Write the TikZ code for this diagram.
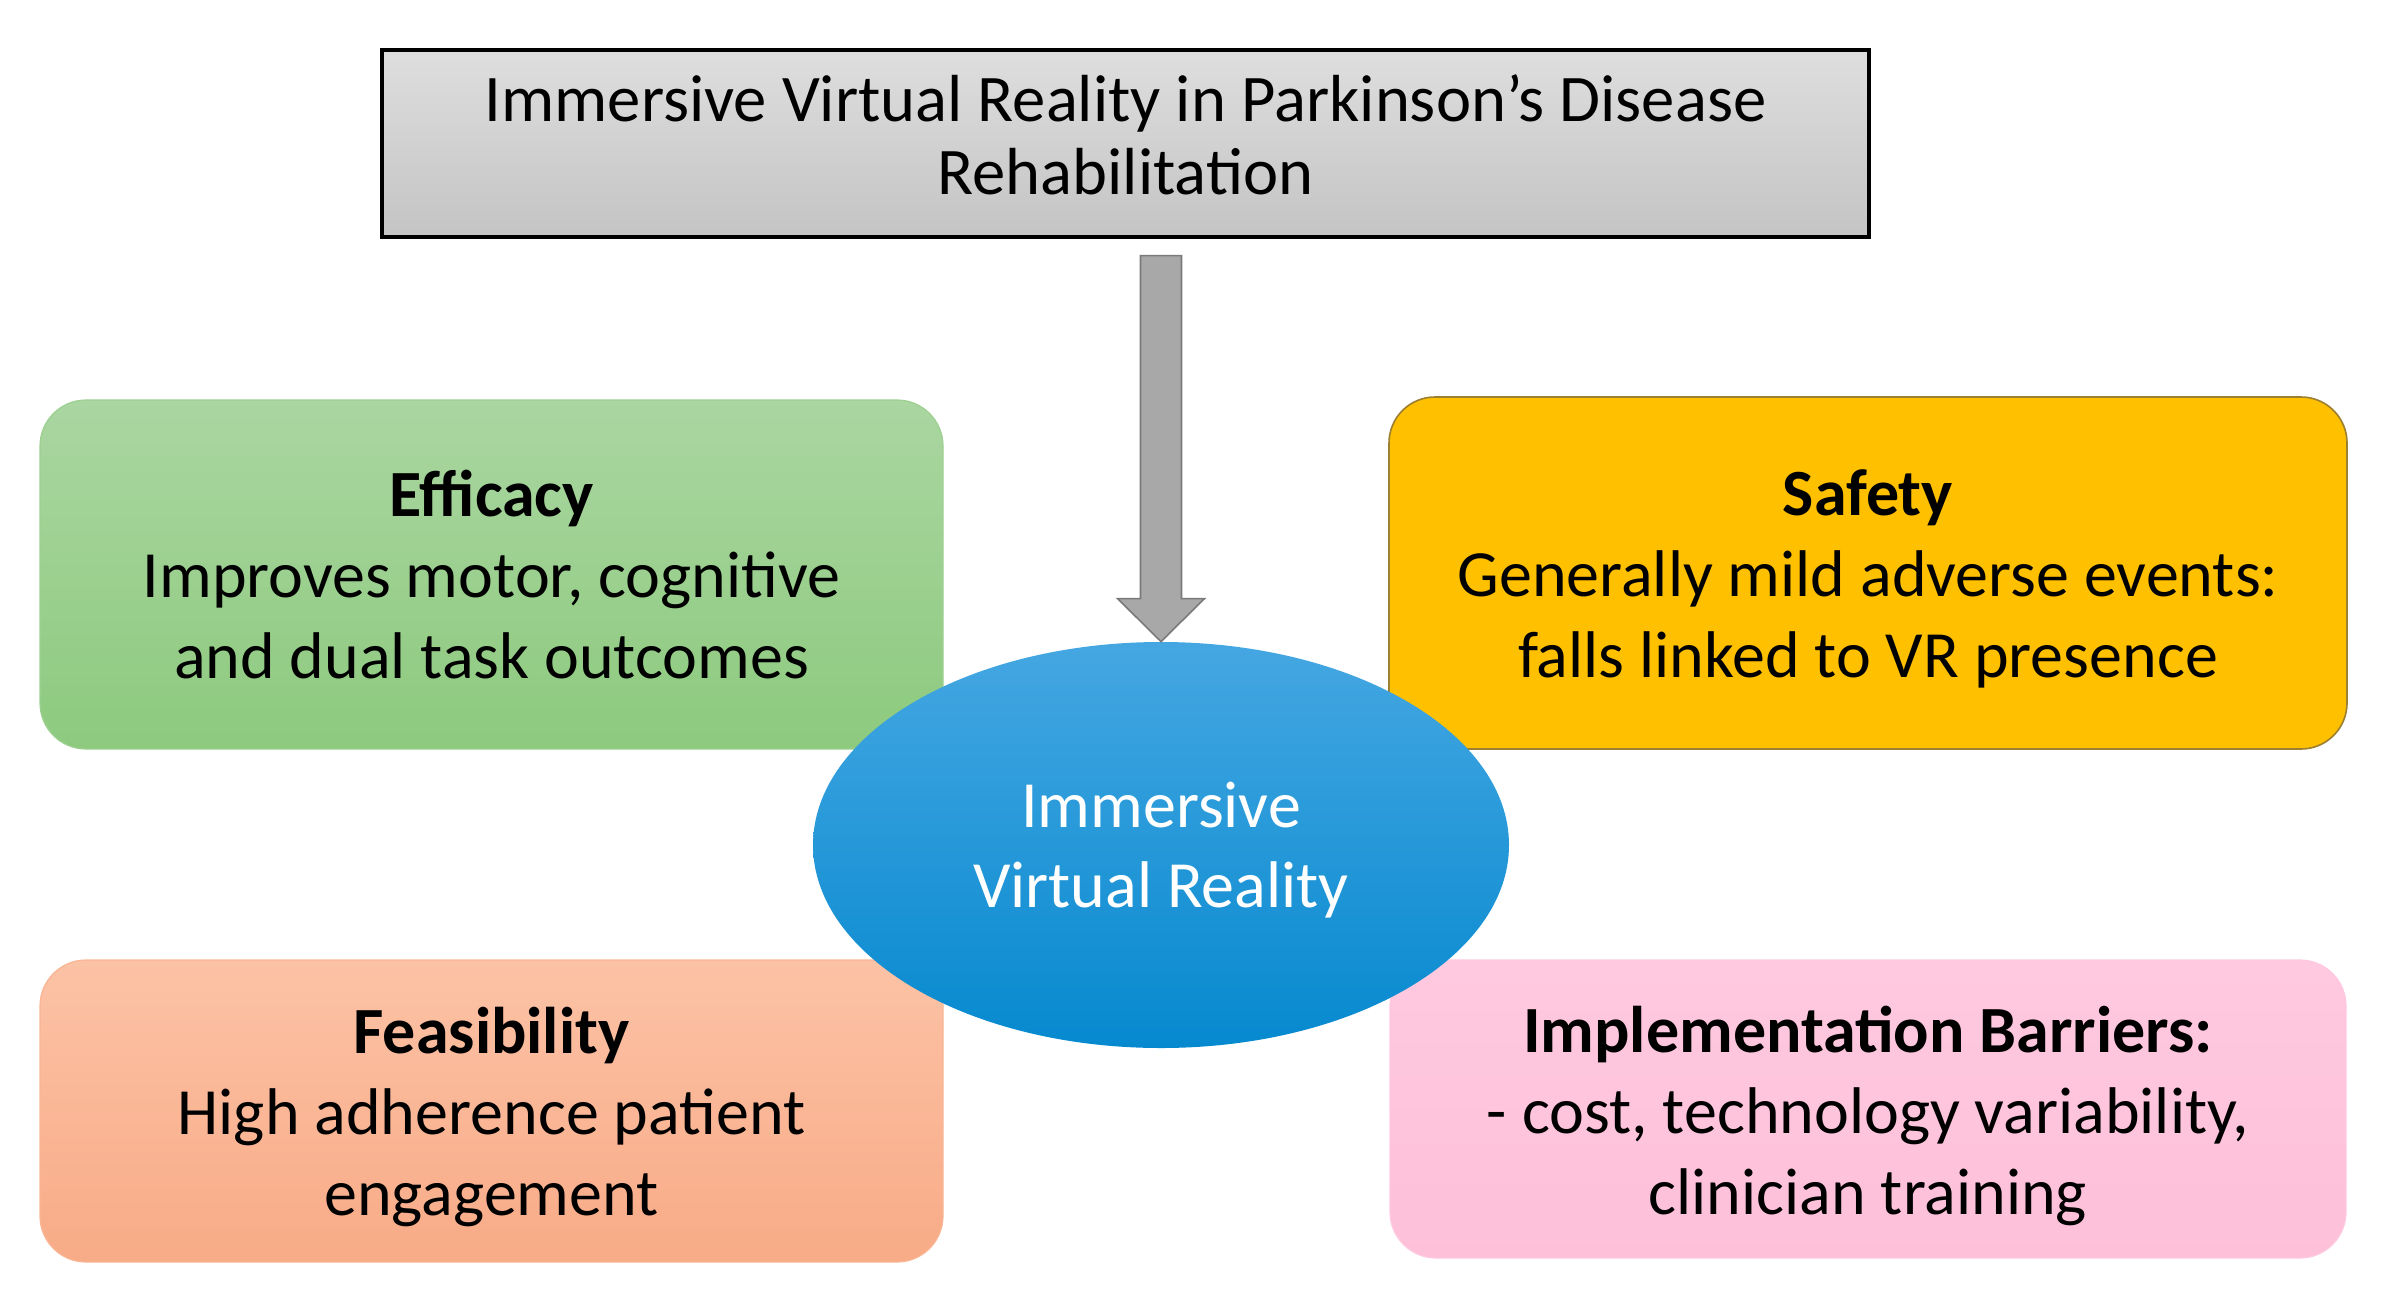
\documentclass[tikz,border=0pt]{standalone}
\usepackage{fontspec}
\setmainfont{Carlito}
\usetikzlibrary{shapes.geometric,calc}
\definecolor{ttop}{HTML}{DEDEDE}
\definecolor{tbot}{HTML}{C4C4C4}
\definecolor{gtop}{HTML}{AAD6A1}
\definecolor{gbot}{HTML}{8DCA7E}
\definecolor{gline}{HTML}{9DD090}
\definecolor{yfill}{HTML}{FFC000}
\definecolor{yline}{HTML}{9C7F30}
\definecolor{btop}{HTML}{45A7E2}
\definecolor{bbot}{HTML}{0689CF}
\definecolor{otop}{HTML}{FCC2A5}
\definecolor{obot}{HTML}{F8AB87}
\definecolor{oline}{HTML}{F9B594}
\definecolor{ptop}{HTML}{FFC9DF}
\definecolor{pbot}{HTML}{FDC0D8}
\definecolor{afill}{HTML}{A8A8A8}
\definecolor{aline}{HTML}{7A7A7A}
\tikzset{
  topicbox/.style={rounded corners=23pt, inner sep=0pt},
  topictext/.style={align=center, inner sep=0pt, text=black,
    font=\fontsize{33}{40.5}\selectfont},
  titlebox/.style={draw=black, line width=1.6pt, top color=ttop, bottom color=tbot,
    inner sep=0pt},
  titletext/.style={align=center, inner sep=0pt, font=\fontsize{33.3}{36.5}\selectfont},
  hub/.style={ellipse, inner sep=0pt, top color=btop, bottom color=bbot},
  hubtext/.style={text=white, align=center, inner sep=0pt, font=\fontsize{33}{40}\selectfont},
  blockarrow/.style={fill=afill, draw=aline, line width=0.8pt, line join=miter}
}
\begin{document}
\begin{tikzpicture}[x=0.5pt,y=-0.5pt]
\useasboundingbox (0,0) rectangle (2396,1311);
\node[titlebox, minimum width=743.5pt, minimum height=93.5pt,
  label={[titletext, yshift=4.5pt]center:Immersive Virtual Reality in Parkinson’s Disease\\Rehabilitation}] (title) at (1125.5,143.5) {};
\node[topicbox, top color=gtop, bottom color=gbot, draw=gline, line width=0.6pt,
  minimum width=451.5pt, minimum height=174.5pt,
  label={[topictext]center:\textbf{Efficacy}\\Improves motor, cognitive\\and dual task outcomes}] (eff) at (491.5,574.5) {};
\node[topicbox, fill=yfill, draw=yline, line width=0.8pt,
  minimum width=479pt, minimum height=176pt,
  label={[topictext, yshift=-3pt]center:\textbf{Safety}\\Generally mild adverse events:\\falls linked to VR presence}] (saf) at (1868,573) {};
\node[topicbox, top color=otop, bottom color=obot, draw=oline, line width=0.6pt,
  minimum width=451.5pt, minimum height=151pt,
  label={[topictext, yshift=-3pt]center:\textbf{Feasibility}\\High adherence patient\\engagement}] (fea) at (491.5,1111) {};
\node[topicbox, top color=ptop, bottom color=pbot, draw=ptop, line width=0.6pt,
  minimum width=478pt, minimum height=149pt,
  label={[topictext, yshift=-3.5pt]center:\textbf{Implementation Barriers:}\\- cost, technology variability,\\clinician training}] (imp) at (1868,1109) {};
\node[hub, minimum width=348pt, minimum height=203pt,
  label={[hubtext, yshift=-2.5pt]center:Immersive\\Virtual Reality}] (vr) at (1161,845) {};
\coordinate (atop) at ($(title.south -| vr.north)+(0,17)$);
\draw[blockarrow] ($(atop)+(-20.5,0)$) -- ($(atop)+(20.5,0)$)
  -- ($(vr.north)+(20.5,-43)$) -- ($(vr.north)+(43.5,-43)$) -- (vr.north)
  -- ($(vr.north)+(-43.5,-43)$) -- ($(vr.north)+(-20.5,-43)$) -- cycle;
\end{tikzpicture}
\end{document}
